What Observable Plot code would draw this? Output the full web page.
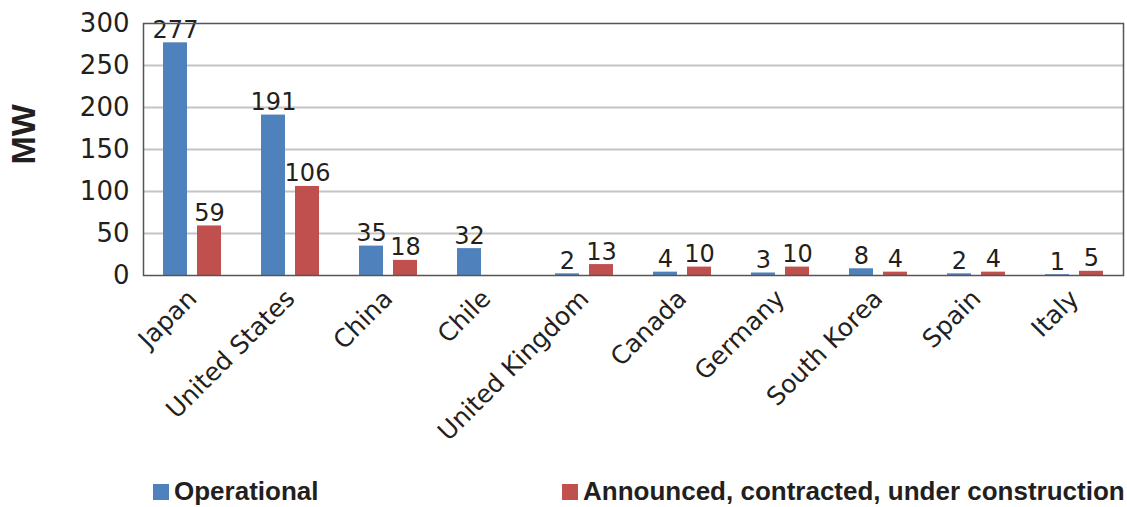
<!DOCTYPE html>
<html><head><meta charset="utf-8">
<script src="https://cdn.jsdelivr.net/npm/d3@7"></script>
<script src="https://cdn.jsdelivr.net/npm/@observablehq/plot@0.6"></script>
<style>
body{margin:0;background:#fff;}
#wrap{position:relative;width:1127px;height:507px;}
#legend{position:absolute;left:0;top:476px;width:1127px;height:26px;font-family:"Liberation Sans",Arial,sans-serif;font-weight:bold;font-size:26px;color:#231f20;}
.item{position:absolute;top:0;display:flex;align-items:center;white-space:nowrap;}
.sw{width:16px;height:16px;margin-right:5px;}
</style>
</head><body>
<div id="wrap"><div id="chart"></div><div id="legend"></div></div>
<script>
const countries = ["Japan","United States","China","Chile","United Kingdom","Canada","Germany","South Korea","Spain","Italy"];
const seriesNames = ["Operational","Announced, contracted, under construction"];
const operational = [277,191,35,32,2,4,3,8,2,1];
const announced = [59,106,18,null,13,10,10,4,4,5];
const colors = ["#4F81BD","#C0504D"];
const yTicks = [0,50,100,150,200,250,300];
const yTitle = "MW";

const data = [];
countries.forEach((c,i)=>{
  data.push({country:c, series:seriesNames[0], value:operational[i]});
  if (announced[i] != null) data.push({country:c, series:seriesNames[1], value:announced[i]});
});

const plot = Plot.plot({
  width:1127, height:462,
  marginLeft:142, marginRight:4, marginTop:23, marginBottom:187,
  style:{fontFamily:"DejaVu Sans, sans-serif", fontSize:"24px", color:"#231f20", background:"white", overflow:"visible"},
  fx:{domain:countries, paddingInner:0, paddingOuter:0, label:null},
  x:{domain:seriesNames, paddingInner:0.29, paddingOuter:0.585, axis:null},
  y:{domain:[0,300]},
  color:{domain:seriesNames, range:colors},
  marks:[
    Plot.ruleY(yTicks.slice(1,-1), {stroke:"#c4c4c4", strokeWidth:2}),
    Plot.barY(data, {fx:"country", x:"series", y:"value", fill:"series"}),
    Plot.text(data, {fx:"country", x:"series", y:"value", text:d=>String(d.value), lineAnchor:"bottom", dy:-5, fill:"#231f20", fontSize:24}),
    Plot.frame({facet:"super", stroke:"#555", strokeWidth:1.5}),
    Plot.axisY(yTicks, {tickSize:0, tickPadding:14, label:null, fontSize:26}),
    Plot.text([yTitle], {facet:"super", frameAnchor:"left", text:d=>d, rotate:-90, dx:-119, dy:15, fontWeight:"bold", fontSize:34, fontFamily:"Liberation Sans, Arial, sans-serif", fill:"#231f20"}),
    Plot.axisFx({anchor:"bottom", tickRotate:-45, tickSize:0, tickPadding:19, label:null, fontSize:25})
  ]
});
document.getElementById("chart").appendChild(plot);

const legend = document.getElementById("legend");
const lx = [153, 562];
seriesNames.forEach((s,i)=>{
  const it = document.createElement("div");
  it.className="item"; it.style.left = lx[i]+"px";
  const sw = document.createElement("span"); sw.className="sw"; sw.style.background = colors[i];
  const t = document.createElement("span"); t.textContent = s;
  it.appendChild(sw); it.appendChild(t); legend.appendChild(it);
});
</script>
</body></html>
